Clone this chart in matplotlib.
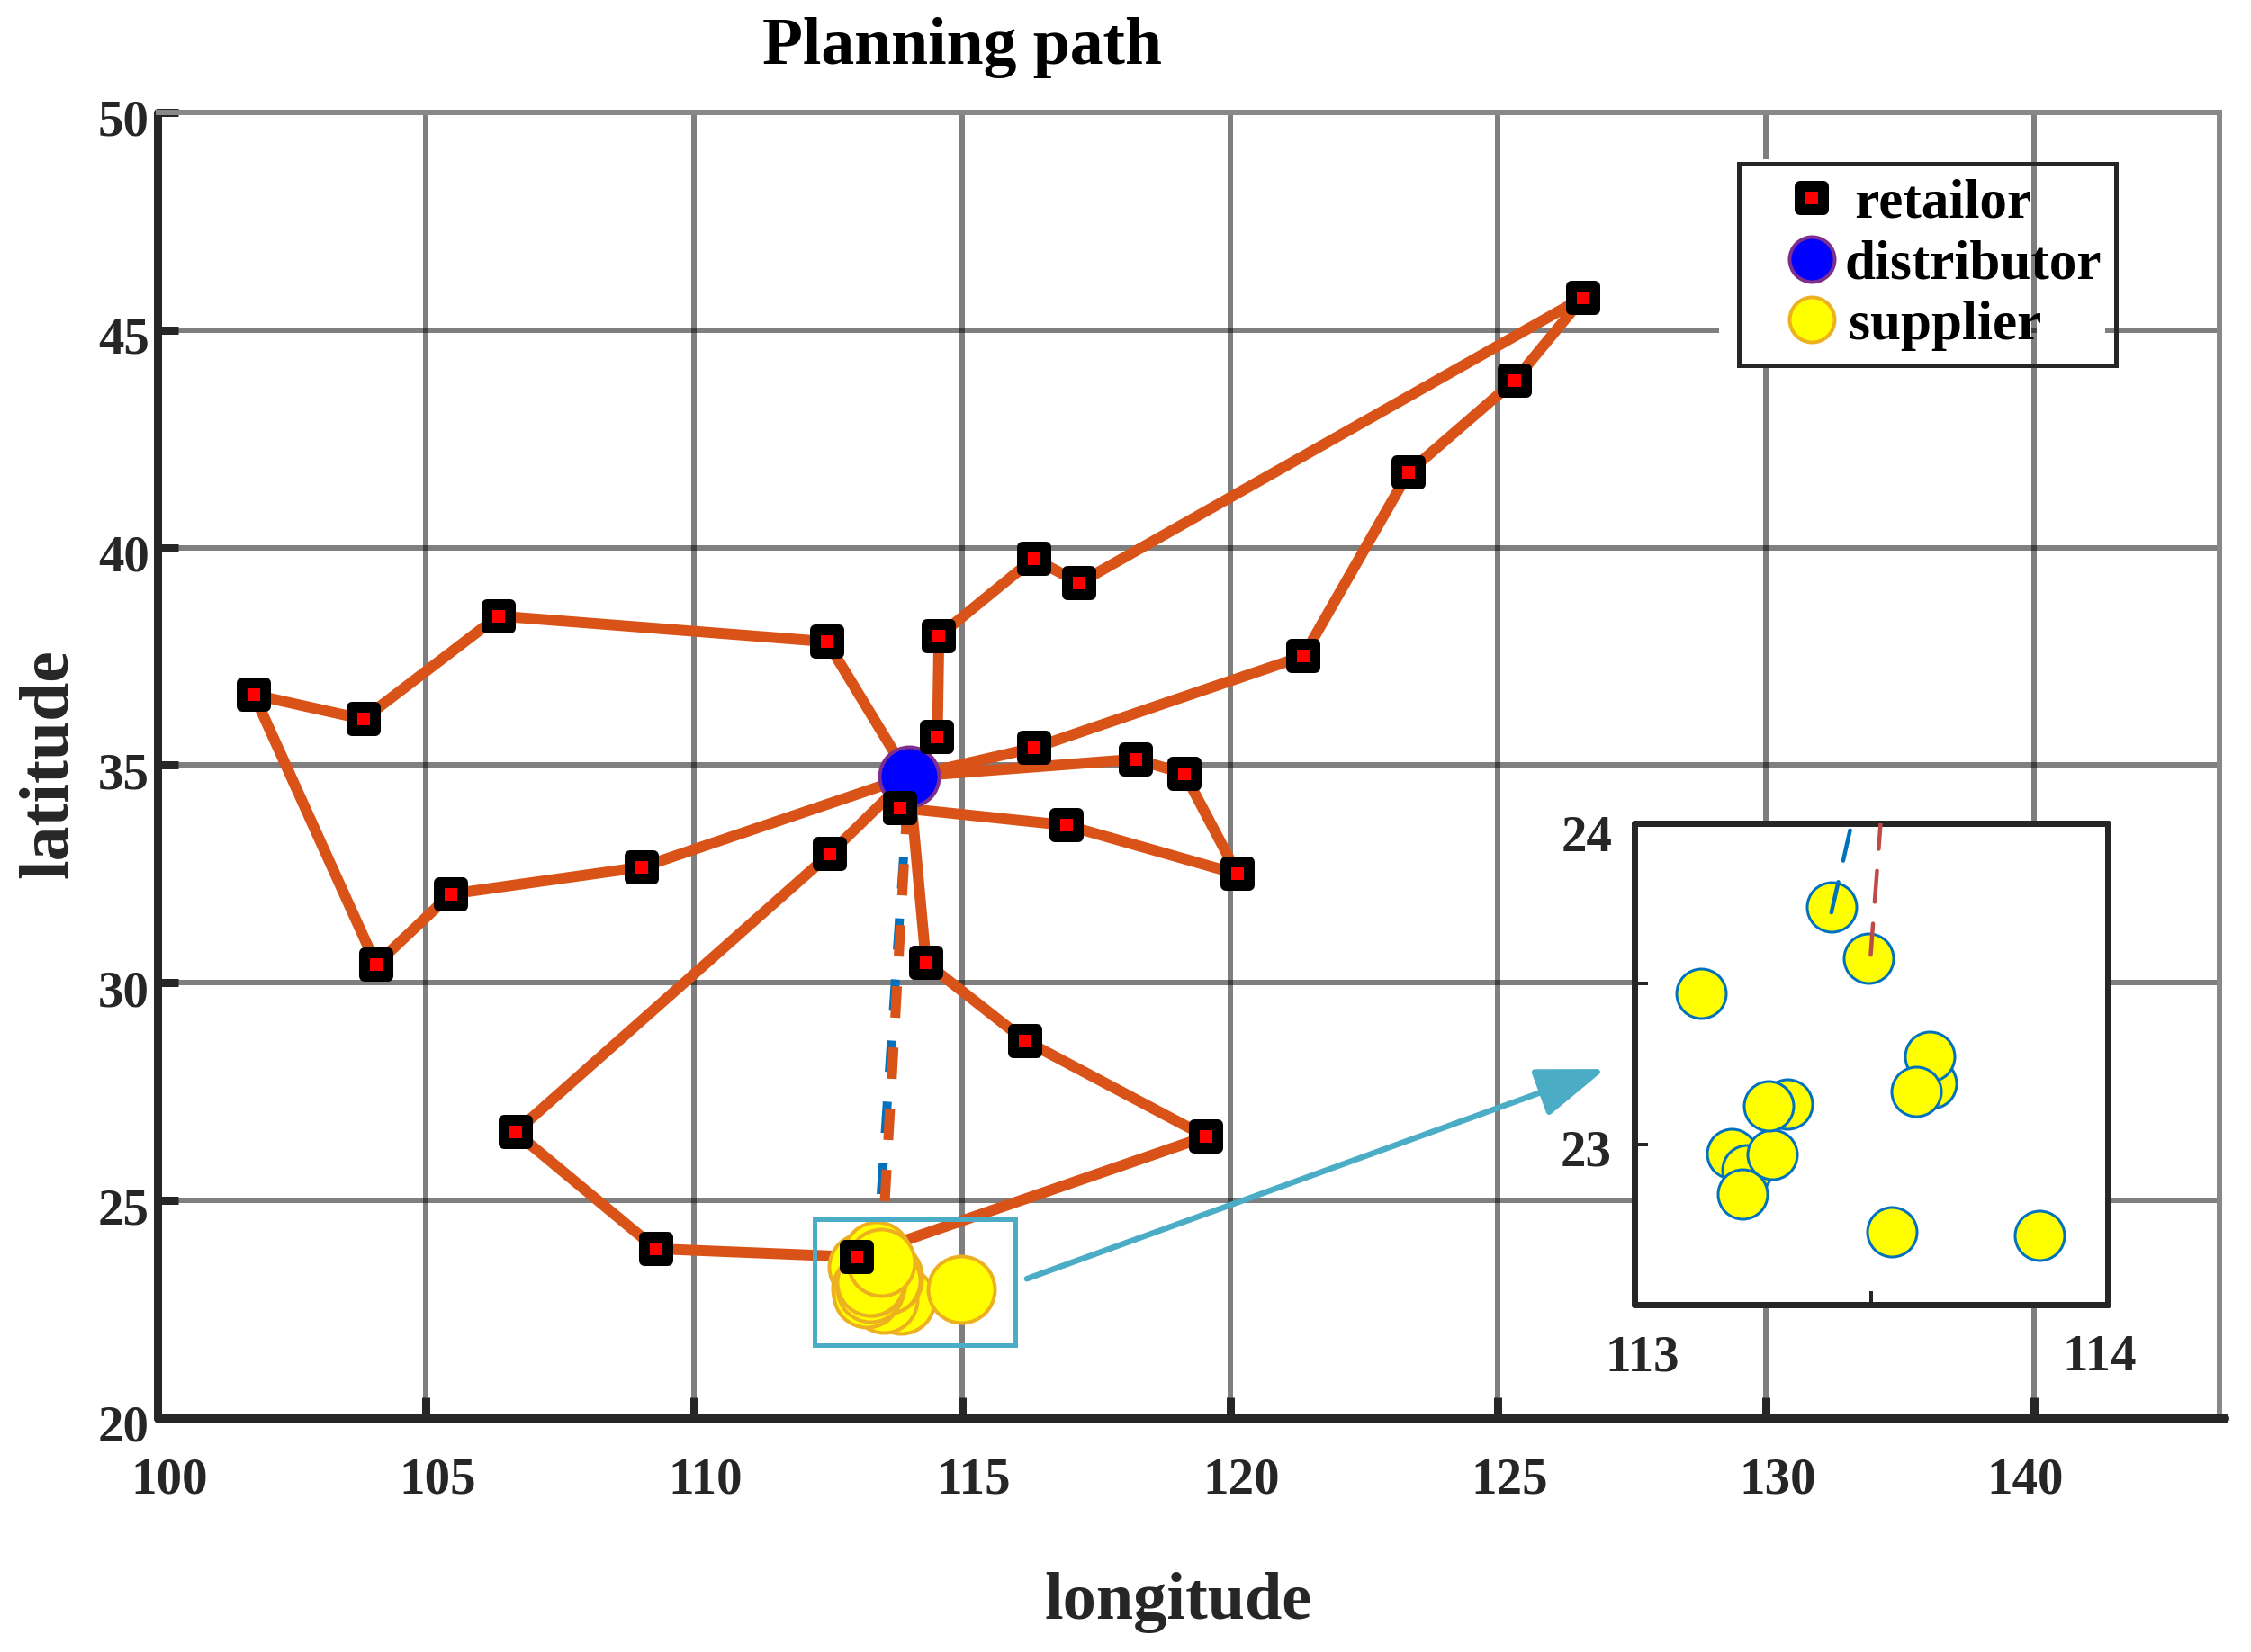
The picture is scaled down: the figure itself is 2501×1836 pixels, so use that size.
import matplotlib
matplotlib.use("Agg")
import matplotlib.pyplot as plt
from matplotlib.lines import Line2D
from matplotlib.markers import MarkerStyle
from matplotlib.patches import Rectangle
from matplotlib.transforms import ScaledTranslation

# ------------------------------------------------------------------
# Data
# ------------------------------------------------------------------
hub_lon = 114.01
hub_lat = 34.74

route1_lon = [112.48, 106.35, 103.83, 101.79, 104.07, 105.46, 109.03]
route1_lat = [37.84, 38.43, 36.06, 36.62, 30.42, 32.04, 32.66]

route2_lon = [114.54, 114.57, 116.34, 117.19, 126.59, 125.31, 123.33, 121.37, 116.34]
route2_lat = [35.66, 37.97, 39.75, 39.19, 45.75, 43.84, 41.73, 37.51, 35.40]

route3_lon = [118.24, 119.15, 120.14, 116.95, 113.85]
route3_lat = [35.14, 34.81, 32.50, 33.62, 34.02]

route4_lon = [114.33, 116.18, 119.55, 113.04, 109.29, 106.67, 112.53]
route4_lat = [30.46, 28.67, 26.47, 23.70, 23.89, 26.57, 32.96]

supplier_lon = [113.855, 114.99, 113.544, 113.627, 113.624, 113.595, 113.14, 113.205,
                113.237, 113.228, 113.29, 113.323, 113.416, 113.284, 113.495]
supplier_lat = [22.716, 22.96, 22.728, 23.19, 23.275, 23.164, 23.47, 22.97,
                22.92, 22.845, 22.968, 23.124, 23.74, 23.12, 23.58]

# dashed supplier -> distributor links
blue_lon = [113.416, 114.01]
blue_lat = [23.74, 34.74]
orange_lon = [113.495, 114.01]
orange_lat = [23.58, 34.74]

# the same links as they appear in the zoom box
zoom_blue_lon = [113.416, 113.457]
zoom_blue_lat = [23.722, 23.988]
zoom_red_lon = [113.499, 113.52]
zoom_red_lat = [23.59, 24.0]

x_ticks = [100, 105, 110, 115, 120, 125, 130, 135]
x_tick_labels = ["100", "105", "110", "115", "120", "125", "130", "140"]
y_ticks = [20, 25, 30, 35, 40, 45, 50]
zoom_x_ticks = [113, 113.5, 114]
zoom_x_labels = ["113", "", "114"]
zoom_y_ticks = [23, 23.5, 24]
zoom_y_labels = ["23", "", "24"]

# ------------------------------------------------------------------
# Style
# ------------------------------------------------------------------
W, H = 2501, 1836
PT = 0.72  # points per pixel at dpi 100

plt.rcParams["font.family"] = ["Liberation Serif", "DejaVu Serif"]
plt.rcParams["font.weight"] = "bold"
plt.rcParams["lines.scale_dashes"] = False

DARK = "#262626"
ORANGE = "#D95319"
BLUE = "#0072BD"
CYAN = "#4BACC6"
GOLD = "#EDB120"
PURPLE = "#7E2F8E"


def retailer_marker():
    return MarkerStyle("s", joinstyle="round")


def px_axes(left, top, right, bottom):
    return [left / W, 1 - bottom / H, (right - left) / W, (bottom - top) / H]


def shift_labels(labels, dx, dy):
    for lab, a, b in zip(labels, dx, dy):
        lab.set_transform(lab.get_transform() + ScaledTranslation(a / 100, b / 100, fig.dpi_scale_trans))


fig = plt.figure(figsize=(W / 100, H / 100), dpi=100)

# ------------------------------------------------------------------
# Main axes
# ------------------------------------------------------------------
ax = fig.add_axes(px_axes(175.5, 125, 2466, 1576))
ax.set_xlim(100, 138.46)
ax.set_ylim(20, 50)
ax.set_axisbelow(True)
ax.grid(True, color="black", alpha=0.5, lw=6 * PT)

for side in ["top", "right"]:
    ax.spines[side].set_color("#888888")
    ax.spines[side].set_linewidth(6 * PT)
ax.spines["left"].set_color(DARK)
ax.spines["left"].set_linewidth(9 * PT)
ax.spines["bottom"].set_color(DARK)
ax.spines["bottom"].set_linewidth(11 * PT)
ax.spines["left"].set_capstyle("round")
ax.spines["bottom"].set_capstyle("round")
ax.plot([1, 1.002], [0, 0], color=DARK, lw=11 * PT, transform=ax.transAxes,
        clip_on=False, solid_capstyle="round")

ax.set_xticks(x_ticks)
ax.set_xticklabels(x_tick_labels)
ax.set_yticks(y_ticks)
ax.tick_params(axis="both", direction="in", length=23 * PT, width=9 * PT, color=DARK,
               labelcolor=DARK, labelsize=41)
ax.tick_params(axis="x", pad=31)
ax.tick_params(axis="y", pad=7)
shift_labels(ax.get_xticklabels(), [13, 13, 13, 13, 13, 13, 13, -10], [0] * 8)
shift_labels(ax.get_yticklabels(), [0] * 7, [-6] * 7)
ax.xaxis.get_major_ticks()[0].tick1line.set_visible(False)
ax.yaxis.get_major_ticks()[0].tick1line.set_visible(False)
ax.yaxis.get_gridlines()[-1].set_visible(False)

# routes
for lon, lat in [(route1_lon, route1_lat), (route2_lon, route2_lat),
                 (route3_lon, route3_lat), (route4_lon, route4_lat)]:
    ax.plot([hub_lon] + lon + [hub_lon], [hub_lat] + lat + [hub_lat], color=ORANGE,
            lw=12 * PT, zorder=3, solid_joinstyle="round")

ax.plot(blue_lon, blue_lat, color=BLUE, lw=10 * PT, ls=(0, (25.2, 23.8)),
        dash_capstyle="butt", zorder=3.1)
ax.plot(orange_lon, orange_lat, color=ORANGE, lw=11 * PT, ls=(0, (25.2, 23.8)),
        dash_capstyle="butt", zorder=3.2)

for i in range(len(supplier_lon)):
    ax.plot(supplier_lon[i], supplier_lat[i], "o", ms=74 * PT, mfc="yellow", mec=GOLD,
            mew=4 * PT, zorder=4)

ax.plot(hub_lon, hub_lat, "o", ms=66 * PT, mfc="#0000FF", mec=PURPLE, mew=4 * PT, zorder=4.5)

all_lon = route1_lon + route2_lon + route3_lon + route4_lon
all_lat = route1_lat + route2_lat + route3_lat + route4_lat
ax.plot(all_lon, all_lat, ls="none", marker=retailer_marker(), ms=26 * PT, mfc="red", mec="black",
        mew=12 * PT, zorder=5)

# zoom frame and arrow
ax.add_patch(Rectangle((112.25, 21.67), 3.75, 2.90, fill=False, ec=CYAN, lw=5 * PT, zorder=6))
ax.annotate("", xy=(127.0, 28.02), xytext=(116.21, 23.20),
            arrowprops=dict(arrowstyle="-|>,head_length=1.0,head_width=0.36", mutation_scale=47,
                            color=CYAN, lw=6.5 * PT, shrinkA=0, shrinkB=0, capstyle="round"),
            zorder=6)

ax.set_title("Planning path", fontsize=53, fontweight="bold", color="black", x=0.390, y=1.0495,
             va="center", pad=0)
ax.set_xlabel("longitude", fontsize=53.5, fontweight="bold", color=DARK)
ax.xaxis.set_label_coords(0.495, -0.118)
ax.set_ylabel("latitude", fontsize=56, fontweight="bold", color=DARK, va="center")
ax.yaxis.set_label_coords(-0.0522, 0.501)

# ------------------------------------------------------------------
# Legend
# ------------------------------------------------------------------
# white blocks behind the legend, leave the grid line at x=135 visible
ax.add_patch(Rectangle((129.13, 44.15), 5.82, 4.77, fc="white", ec="none", zorder=2))
ax.add_patch(Rectangle((135.05, 44.15), 1.28, 4.77, fc="white", ec="none", zorder=2))
handles = [
    Line2D([], [], ls="none", marker=retailer_marker(), ms=26 * PT, mfc="red", mec="black", mew=12 * PT),
    Line2D([], [], ls="none", marker="o", ms=50 * PT, mfc="#0000FF", mec=PURPLE, mew=4 * PT),
    Line2D([], [], ls="none", marker="o", ms=50 * PT, mfc="yellow", mec=GOLD, mew=4 * PT),
]
leg = ax.legend(handles, ["\u2009retailor", "distributor", "\u200asupplier"], loc="upper left",
                bbox_to_anchor=((1932 - 175.5) / 2290.5, (1576 - 182) / 1451),
                facecolor="none", framealpha=1, fancybox=False, edgecolor=DARK, borderaxespad=0,
                borderpad=0.27, labelspacing=0.19, handlelength=2.1, handletextpad=-0.45,
                prop={"family": "Liberation Serif", "weight": "bold", "size": 44})
leg.get_frame().set_linewidth(5 * PT)
leg.set_zorder(8)

# ------------------------------------------------------------------
# Zoomed inset
# ------------------------------------------------------------------
inset = fig.add_axes(px_axes(1816, 915, 2342, 1450))
inset.set_xlim(113, 114)
inset.set_ylim(22.5, 24)
inset.set_xticks(zoom_x_ticks)
inset.set_xticklabels(zoom_x_labels)
inset.set_yticks(zoom_y_ticks)
inset.set_yticklabels(zoom_y_labels)
inset.tick_params(axis="both", direction="in", length=15 * PT, width=4 * PT, color=DARK,
                  labelcolor=DARK, labelsize=41)
inset.tick_params(axis="x", pad=24)
inset.tick_params(axis="y", pad=18)
shift_labels(inset.get_xticklabels(), [9, 0, -9], [0, 0, 0])
shift_labels(inset.get_yticklabels(), [0, 0, 0], [-4, 0, -11])
for s in inset.spines.values():
    s.set_color(DARK)
    s.set_linewidth(7 * PT)
    s.set_capstyle("round")

for i in range(len(supplier_lon)):
    inset.plot(supplier_lon[i], supplier_lat[i], "o", ms=55 * PT, mfc="yellow", mec=BLUE, mew=3 * PT, zorder=3)

inset.plot(zoom_blue_lon, zoom_blue_lat, color=BLUE, lw=4.5 * PT, ls=(0, (25, 17.5)),
           dash_capstyle="round", zorder=4)
inset.plot(zoom_red_lon, zoom_red_lat, color="#BE4B48", lw=4.5 * PT, ls=(0, (25, 17.5)),
           dash_capstyle="round", zorder=4)

fig.savefig("out.png", dpi=100)
